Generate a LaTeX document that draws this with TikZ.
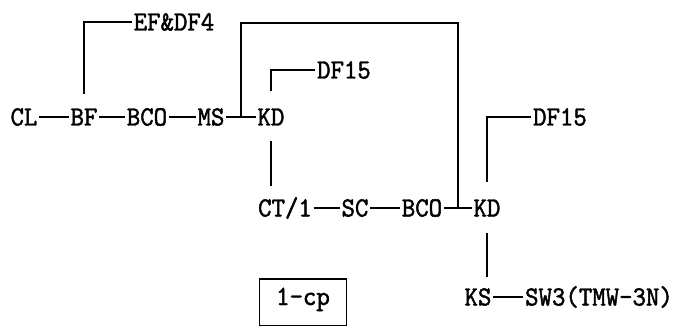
\documentclass[tikz,border=0pt]{standalone}
\usepackage{fontspec}
\usepackage{tikz}
\usetikzlibrary{calc}
\newfontfamily\printfont{lmmono10-regular.otf}[FakeStretch=0.92, FakeBold=1.6]

\begin{document}
\begin{tikzpicture}[x=0.5pt, y=-0.5pt, line width=0.8pt,
    part/.style={inner sep=0.5pt, text height=8.5pt, text depth=0pt,
        font=\printfont\fontsize{13.9}{15}\selectfont}]
    \useasboundingbox (0,0) rectangle (691,326);
    % first row
    \node[part] (CL) at (24,117) {CL};
    \node[part] (BF) at (84,117) {BF};
    \node[part] (BCOa) at (147,117) {BCO};
    \node[part] (MS) at (211,117) {MS};
    \node[part] (KDa) at (271,117) {KD};
    \node[part] (EFDF) at (174,22) {EF\&DF4};
    \node[part] (DFa) at (344,70) {DF15};
    % second row
    \node[part] (CT) at (285,208) {CT/1};
    \node[part] (SC) at (355,208) {SC};
    \node[part] (BCOb) at (422,208) {BCO};
    \node[part] (KDb) at (487,208) {KD};
    \node[part] (DFb) at (560,117) {DF15};
    % third row
    \node[part] (KS) at (478,297) {KS};
    \node[part] (SW) at (599,297) {SW3(TMW-3N)};
    \node[part, draw, anchor=base, minimum width=43.5pt, text height=12.5pt,
        text depth=10pt] (onecp) at (303,305) {1-cp};
    \draw (CL) -- (BF);
    \draw (BF) -- (BCOa);
    \draw (BCOa) -- (MS);
    \draw (MS) -- (KDa);
    \draw (CT) -- (SC);
    \draw (SC) -- (BCOb);
    \draw (BCOb) -- (KDb);
    \draw (KS) -- (SW);
    % loop over the top
    \coordinate (tapa) at ($(MS.east)!0.5!(KDa.west)$);
    \coordinate (tapb) at ($(BCOb.east)!0.5!(KDb.west)$);
    \coordinate (ceiling) at (0,23);
    \draw (tapa) |- (ceiling -| tapb) -- (tapb);
    % branches
    \draw[shorten <=6.25pt] (BF.north) |- (EFDF.west);
    \draw[shorten <=7.75pt] (KDa.north) |- (DFa.west);
    \draw[shorten <=7.75pt] (KDb.north) |- (DFb.west);
    \draw[shorten <=6.75pt, shorten >=5.75pt] (KDa.south) -- (KDa.south |- CT.north);
    \draw[shorten <=7.25pt, shorten >=4.75pt] (KDb.south) -- (KDb.south |- KS.north);
\end{tikzpicture}
\end{document}
